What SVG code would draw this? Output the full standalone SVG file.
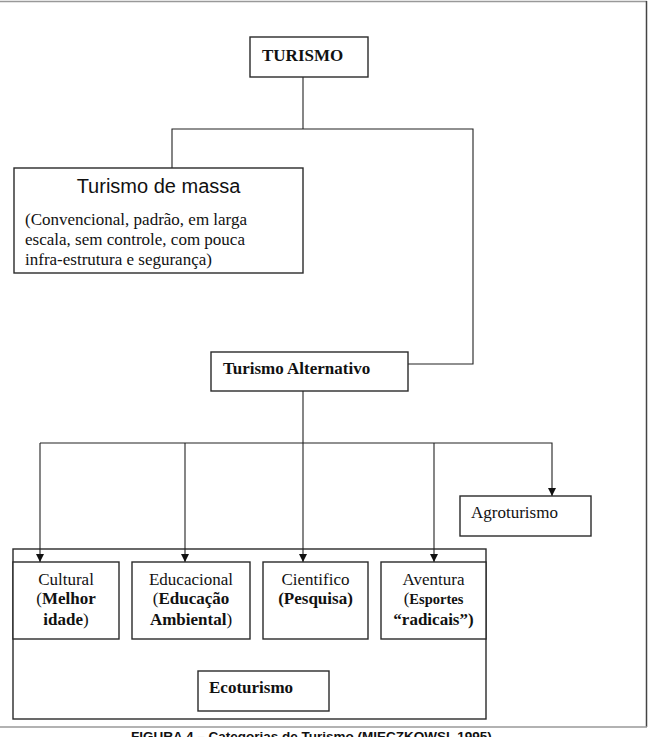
<svg xmlns="http://www.w3.org/2000/svg" width="648" height="737" viewBox="0 0 648 737">
<style>
.box{fill:#fff;stroke:#2a2a2a;stroke-width:1.4}
.grp{fill:none;stroke:#2a2a2a;stroke-width:1.4}
.ln{fill:none;stroke:#222;stroke-width:1.1}
.t{font-family:"Liberation Serif","Times New Roman",serif;font-size:17px;fill:#111}
.b{font-weight:bold}
.s{font-family:"Liberation Sans",Arial,sans-serif;fill:#111}
</style>
<defs>
<marker id="ar" viewBox="0 0 10 10" refX="10" refY="5" markerWidth="8" markerHeight="8" markerUnits="userSpaceOnUse" orient="auto">
<path d="M0,0 L10,5 L0,10 z" fill="#111"/>
</marker>
</defs>
<rect width="648" height="737" fill="#fff"/>
<g id="frame">
<line x1="0" y1="1.5" x2="647" y2="1.5" stroke="#999" stroke-width="1.5"/>
<line x1="646.5" y1="1" x2="646.5" y2="727" stroke="#444" stroke-width="1.5"/>
<line x1="0" y1="727" x2="647" y2="727" stroke="#999" stroke-width="1.5"/>
</g>
<g id="ecoturismo-grupo">
<rect class="grp" x="13" y="549" width="473" height="170"/>
</g>
<g id="connectors">
<polyline class="ln" points="303,77 303,129"/>
<polyline class="ln" points="172,168 172,129 473,129 473,364 408,364"/>
<polyline class="ln" points="303,391 303,443"/>
<polyline class="ln" points="40,443 552,443 552,496" marker-end="url(#ar)"/>
<polyline class="ln" points="40,443 40,562" marker-end="url(#ar)"/>
<polyline class="ln" points="185,443 185,562" marker-end="url(#ar)"/>
<polyline class="ln" points="303,443 303,562" marker-end="url(#ar)"/>
<polyline class="ln" points="434,443 434,562" marker-end="url(#ar)"/>
</g>
<g id="turismo">
<rect class="box" x="250" y="37" width="118" height="40"/>
<text class="t b" x="262" y="61">TURISMO</text>
</g>
<g id="massa">
<rect class="box" x="14" y="168" width="289" height="105"/>
<text class="s" x="158.5" y="193" font-size="20" text-anchor="middle">Turismo de massa</text>
<text class="t" x="25" y="225">(Convencional, padrão, em larga</text>
<text class="t" x="25" y="245">escala, sem controle, com pouca</text>
<text class="t" x="25" y="265">infra-estrutura e segurança)</text>
</g>
<g id="alternativo">
<rect class="box" x="211" y="352" width="197" height="39"/>
<text class="t b" x="223" y="374">Turismo Alternativo</text>
</g>
<g id="agroturismo">
<rect class="box" x="460" y="496" width="131" height="40"/>
<text class="t" x="471" y="518">Agroturismo</text>
</g>
<g id="cultural">
<rect class="box" x="13" y="562" width="106" height="77"/>
<text class="t" x="66" y="585" text-anchor="middle">Cultural</text>
<text class="t" x="66" y="604" text-anchor="middle">(<tspan class="b">Melhor</tspan></text>
<text class="t" x="66" y="625" text-anchor="middle"><tspan class="b">idade</tspan>)</text>
</g>
<g id="educacional">
<rect class="box" x="132" y="562" width="118" height="77"/>
<text class="t" x="191" y="585" text-anchor="middle">Educacional</text>
<text class="t" x="191" y="604" text-anchor="middle">(<tspan class="b">Educação</tspan></text>
<text class="t" x="191" y="625" text-anchor="middle"><tspan class="b">Ambiental</tspan>)</text>
</g>
<g id="cientifico">
<rect class="box" x="263" y="562" width="105" height="77"/>
<text class="t" x="315.5" y="585" text-anchor="middle">Cientifico</text>
<text class="t b" x="315.5" y="604" text-anchor="middle">(Pesquisa)</text>
</g>
<g id="aventura">
<rect class="box" x="381" y="562" width="105" height="77"/>
<text class="t" x="433.5" y="585" text-anchor="middle">Aventura</text>
<text class="t" x="433.5" y="604" text-anchor="middle">(<tspan class="b" font-size="14.5">Esportes</tspan></text>
<text class="t b" x="433.5" y="625" text-anchor="middle" font-size="14.5">“radicais”)</text>
</g>
<g id="ecoturismo">
<rect class="box" x="198" y="671" width="131" height="40"/>
<text class="t b" x="209" y="693">Ecoturismo</text>
</g>
<g id="caption">
<text class="s" x="131" y="741" font-size="13.5" font-weight="bold">FIGURA 4 – Categorias de Turismo (MIECZKOWSI, 1995)</text>
</g>
</svg>
